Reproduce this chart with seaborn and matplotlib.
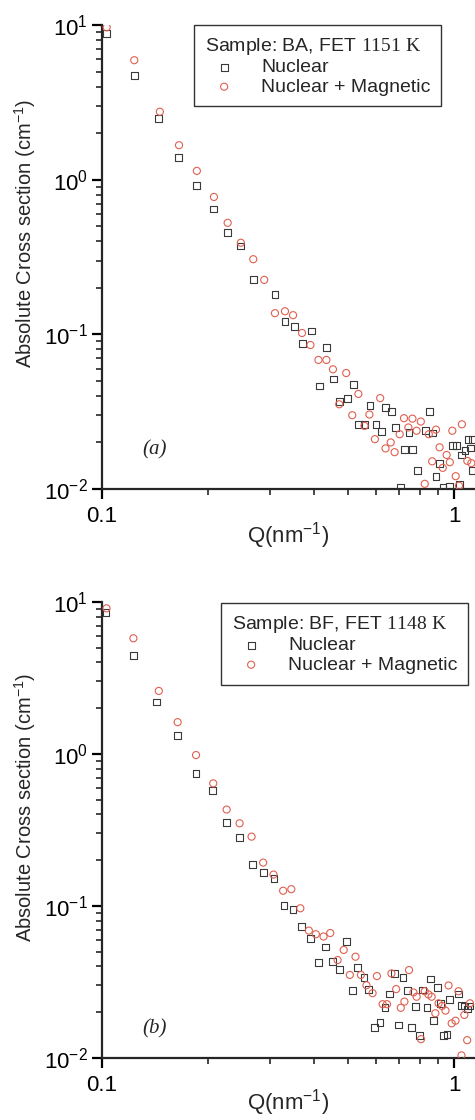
import numpy as np
import pandas as pd
import seaborn as sns
import matplotlib.pyplot as plt

# panel (a): sample BA
qa_nuc = [0.1031, 0.124, 0.1445, 0.165, 0.186, 0.207, 0.2275, 0.248, 0.269, 0.310, 0.331, 0.352,
          0.372, 0.393, 0.414, 0.435, 0.455, 0.474, 0.497, 0.518, 0.536, 0.558, 0.577, 0.600,
          0.622, 0.640, 0.663, 0.683, 0.706, 0.724, 0.745, 0.764, 0.787, 0.828, 0.850, 0.871,
          0.889, 0.910, 0.930, 0.973, 0.989, 1.015, 1.035, 1.053, 1.074, 1.096, 1.115, 1.125, 1.13]
ia_nuc = [8.84, 4.71, 2.48, 1.39, 0.918, 0.647, 0.457, 0.372, 0.225, 0.182, 0.121, 0.112,
          0.087, 0.105, 0.0463, 0.0824, 0.0515, 0.0368, 0.0387, 0.0473, 0.026, 0.026, 0.0345, 0.0262,
          0.0234, 0.0338, 0.0316, 0.025, 0.0103, 0.018, 0.0232, 0.018, 0.0131, 0.0238, 0.0317, 0.023,
          0.0121, 0.0147, 0.0103, 0.0104, 0.019, 0.019, 0.0107, 0.0166, 0.0177, 0.0208, 0.0184, 0.0131, 0.0208]
qa_mag = [0.1031, 0.1235, 0.146, 0.1655, 0.186, 0.208, 0.2275, 0.248, 0.269, 0.289, 0.310, 0.331,
          0.349, 0.370, 0.391, 0.412, 0.434, 0.453, 0.472, 0.494, 0.514, 0.535, 0.557, 0.575,
          0.596, 0.617, 0.639, 0.661, 0.678, 0.701, 0.721, 0.742, 0.762, 0.783, 0.805, 0.826,
          0.848, 0.867, 0.889, 0.910, 0.929, 0.953, 0.973, 0.989, 1.011, 1.033, 1.053, 1.091, 1.12]
ia_mag = [9.66, 5.92, 2.75, 1.67, 1.14, 0.773, 0.526, 0.391, 0.306, 0.225, 0.137, 0.141,
          0.133, 0.102, 0.0853, 0.0683, 0.0683, 0.0594, 0.0353, 0.0562, 0.030, 0.0412, 0.0256, 0.0303,
          0.021, 0.0387, 0.0183, 0.020, 0.0173, 0.0226, 0.0287, 0.025, 0.0285, 0.0238, 0.0273, 0.0108,
          0.0226, 0.0151, 0.0242, 0.0186, 0.0137, 0.0166, 0.0149, 0.0238, 0.0121, 0.0105, 0.0262, 0.0152, 0.0147]

# panel (b): sample BF
qb_nuc = [0.1026, 0.1228, 0.143, 0.164, 0.185, 0.206, 0.226, 0.246, 0.267, 0.288, 0.308, 0.329,
          0.349, 0.369, 0.391, 0.412, 0.432, 0.451, 0.472, 0.494, 0.514, 0.532, 0.555, 0.573,
          0.595, 0.616, 0.637, 0.657, 0.676, 0.696, 0.716, 0.738, 0.757, 0.776, 0.796, 0.815,
          0.838, 0.857, 0.874, 0.896, 0.916, 0.935, 0.955, 0.973, 1.03, 1.05, 1.07, 1.09, 1.11]
ib_nuc = [8.55, 4.46, 2.20, 1.32, 0.741, 0.577, 0.353, 0.283, 0.187, 0.167, 0.151, 0.101,
          0.095, 0.0731, 0.061, 0.0424, 0.0537, 0.0432, 0.0383, 0.0586, 0.0277, 0.0393, 0.0337, 0.0283,
          0.0158, 0.0171, 0.0216, 0.0264, 0.036, 0.0165, 0.034, 0.0277, 0.0158, 0.0218, 0.0141, 0.028,
          0.0216, 0.0331, 0.0177, 0.0292, 0.0229, 0.014, 0.0142, 0.0243, 0.0264, 0.0221, 0.022, 0.021, 0.022]
qb_mag = [0.103, 0.1228, 0.145, 0.164, 0.185, 0.207, 0.226, 0.246, 0.266, 0.287, 0.307, 0.327,
          0.345, 0.366, 0.387, 0.405, 0.426, 0.445, 0.467, 0.486, 0.506, 0.525, 0.544, 0.564,
          0.587, 0.604, 0.627, 0.645, 0.664, 0.685, 0.706, 0.723, 0.745, 0.767, 0.783, 0.806,
          0.826, 0.846, 0.864, 0.885, 0.904, 0.925, 0.946, 0.965, 0.985, 1.01, 1.03, 1.05, 1.07, 1.09, 1.11]
ib_mag = [9.09, 5.77, 2.60, 1.62, 0.984, 0.641, 0.431, 0.35, 0.286, 0.193, 0.161, 0.126,
          0.129, 0.0966, 0.0689, 0.0652, 0.063, 0.0664, 0.0441, 0.0514, 0.0352, 0.0464, 0.0352, 0.0301,
          0.0267, 0.0346, 0.0226, 0.0226, 0.036, 0.0284, 0.0214, 0.0235, 0.0379, 0.027, 0.0253, 0.0133,
          0.0275, 0.0262, 0.0253, 0.0197, 0.0229, 0.022, 0.0205, 0.030, 0.0169, 0.0176, 0.0275, 0.0104, 0.0192, 0.0131, 0.0229]

titles = ["Sample: BA, FET $\\mathtt{1151\\ K}$", "Sample: BF, FET $\\mathtt{1148\\ K}$"]
tags = ["(a)", "(b)"]

sns.set_style("ticks")
plt.rcParams["font.family"] = ["Liberation Sans", "DejaVu Sans"]
plt.rcParams["axes.unicode_minus"] = False
plt.rcParams["mathtext.fontset"] = "custom"
plt.rcParams["mathtext.rm"] = "Liberation Sans"
plt.rcParams["mathtext.it"] = "Liberation Sans:italic"
plt.rcParams["mathtext.tt"] = "Liberation Serif"

fig = plt.figure(figsize=(4.75, 11.2), dpi=100)
ax_a = fig.add_axes([102 / 475, 1 - 489 / 1120, 1 - 102 / 475, 464 / 1120])
ax_b = fig.add_axes([102 / 475, 1 - 1058 / 1120, 1 - 102 / 475, 456 / 1120])

panels = [
    (ax_a, qa_nuc, ia_nuc, qa_mag, ia_mag, (194 / 475, 1 - 25 / 1120), (155, 450), -5),
    (ax_b, qb_nuc, ib_nuc, qb_mag, ib_mag, (221 / 475, 1 - 603 / 1120), (155, 1029), -6),
]

for i, (ax, qn, yn, qm, ym, leg_pos, tag_pos, xpad) in enumerate(panels):
    df_n = pd.DataFrame({"Q": qn, "I": yn})
    df_m = pd.DataFrame({"Q": qm, "I": ym})
    sns.scatterplot(data=df_n, x="Q", y="I", ax=ax, marker="s", s=24,
                    facecolor="none", edgecolor="#3a3a3a", linewidth=0.8,
                    label="Nuclear", zorder=3)
    sns.scatterplot(data=df_m, x="Q", y="I", ax=ax, marker="o", s=26,
                    facecolor="none", edgecolor="#e06050", linewidth=0.8,
                    label="Nuclear + Magnetic", zorder=3)
    ax.set_xscale("log")
    ax.set_yscale("log")
    ax.set_xlim(0.1, 10 ** ((475 - 102) / 352 - 1))
    ax.set_ylim(0.01, 10)
    ax.set_xticks([0.1, 1])
    ax.set_xticklabels(["0.1", "1"])
    ax.set_yticks([0.01, 0.1, 1, 10])
    ax.spines["top"].set_visible(False)
    ax.spines["right"].set_visible(False)
    for s in ["left", "bottom"]:
        ax.spines[s].set_linewidth(1.6)
    ax.tick_params(axis="both", which="major", direction="out", length=7, width=1.6,
                   labelsize=16, colors="black")
    ax.tick_params(axis="both", which="minor", direction="out", length=4, width=1.2)
    ax.tick_params(axis="x", pad=5)
    ax.tick_params(axis="y", pad=3)
    ax.set_xlabel("Q(nm$^{-1}$)", fontsize=16, labelpad=xpad)
    ax.set_ylabel("Absolute Cross section (cm$^{-1}$)", fontsize=14.5)
    ax.yaxis.set_label_coords(-0.172, 0.55)
    leg = ax.legend(title=titles[i], loc="upper left", bbox_to_anchor=leg_pos,
                    bbox_transform=fig.transFigure, frameon=True, fancybox=False,
                    fontsize=14, title_fontsize=14, handletextpad=0.9,
                    borderpad=0.55, labelspacing=0.1, markerscale=1.0,
                    borderaxespad=0)
    leg._legend_box.align = "left"
    leg.get_frame().set_edgecolor("black")
    leg.get_frame().set_linewidth(1.0)
    fig.text(tag_pos[0] / 475, 1 - tag_pos[1] / 1120, tags[i], fontsize=15,
             family="Liberation Serif", style="italic", ha="center", va="center")

fig.savefig("out.png", dpi=100)
